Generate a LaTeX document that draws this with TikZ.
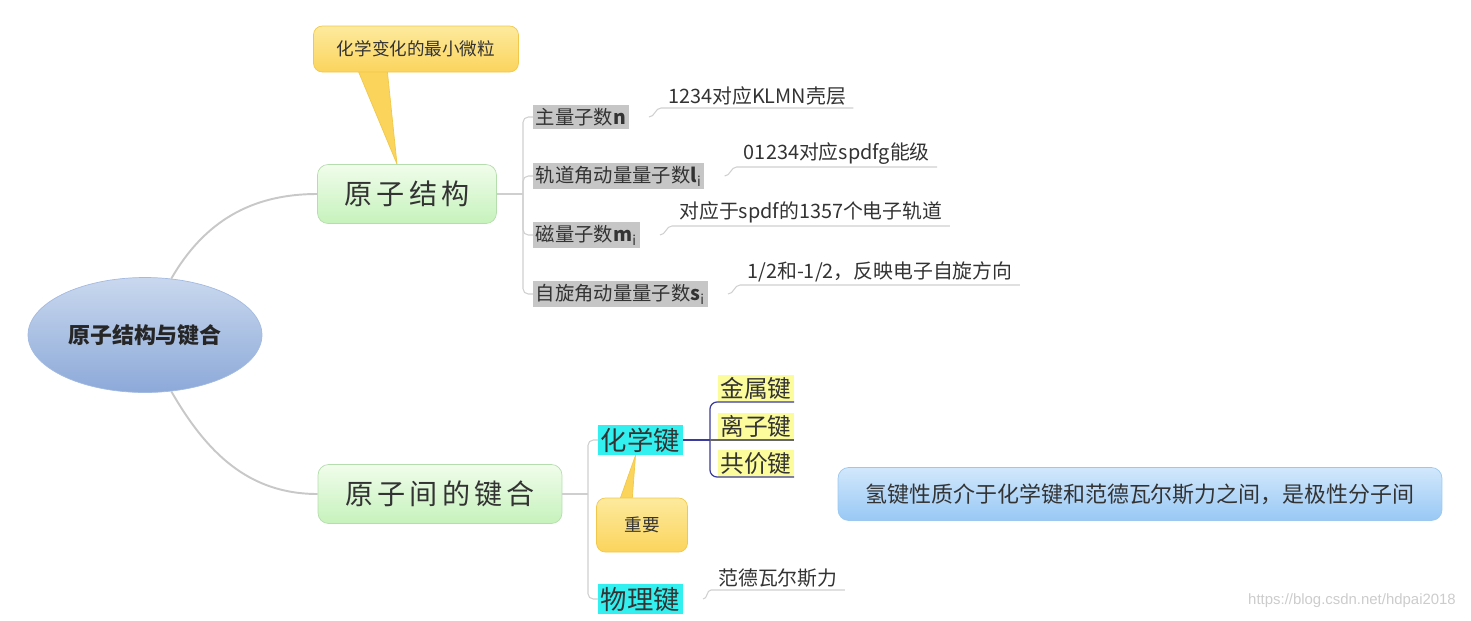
\documentclass[tikz,border=0pt]{standalone}
\usepackage{fontspec}
\setmainfont{Noto Sans CJK SC}
\newfontfamily\cjkwide[LetterSpace=15]{Noto Sans CJK SC}
\newfontfamily\urlfont{Liberation Sans}
\usepackage{xcolor}
\usetikzlibrary{shapes.geometric, positioning, backgrounds}

\definecolor{textdark}{HTML}{333333}
\definecolor{roottop}{HTML}{C9D8EE}
\definecolor{rootbot}{HTML}{8CA9D9}
\definecolor{topictop}{HTML}{F0FDEB}
\definecolor{topicbot}{HTML}{C6F2BC}
\definecolor{topicline}{HTML}{B6DDAE}
\definecolor{calltop}{HTML}{FDEA9E}
\definecolor{callbot}{HTML}{FBD45C}
\definecolor{callline}{HTML}{F2C84A}
\definecolor{hbtop}{HTML}{D2E8FC}
\definecolor{hbbot}{HTML}{98C8F5}
\definecolor{hbline}{HTML}{9CC8EF}
\definecolor{trunkgray}{HTML}{C8C8C8}
\definecolor{twiggray}{HTML}{CFCFCF}
\definecolor{qgray}{HTML}{C6C6C6}
\definecolor{cyanhl}{HTML}{33F0F0}
\definecolor{yellowhl}{HTML}{FCFC9C}
\definecolor{navyline}{HTML}{3B3B9E}

\tikzset{
  rootnode/.style={draw=rootbot!80, ellipse, top color=roottop, bottom color=rootbot,
                   minimum width=4.6cm, minimum height=2.3cm, text=black!85,
                   font=\bfseries\fontsize{12.5}{15}\selectfont},
  topic/.style={draw=topicline, rounded corners=6pt, top color=topictop, bottom color=topicbot,
                minimum height=1.18cm, text=textdark, font=\cjkwide\fontsize{16}{19}\selectfont},
  callout/.style={draw=callline, rounded corners=5pt, top color=calltop, bottom color=callbot,
                  text=textdark, font=\fontsize{10}{12}\selectfont},
  pointer/.style={fill=callbot, draw=callline, line join=round},
  qnum/.style={fill=qgray, inner sep=1.5pt, anchor=west, text=textdark,
               font=\fontsize{11}{13}\selectfont},
  leaf/.style={anchor=south west, inner xsep=4pt, inner ysep=1.5pt, text=textdark,
               font=\fontsize{11.3}{13}\selectfont},
  bondkind/.style={fill=cyanhl, inner sep=1.5pt, anchor=west, text=black!80,
                   font=\fontsize{15}{18}\selectfont},
  bondsub/.style={fill=yellowhl, inner sep=1.2pt, anchor=south west, text=textdark,
                  font=\fontsize{13.5}{16}\selectfont},
  floatbox/.style={draw=hbline, rounded corners=6pt, top color=hbtop, bottom color=hbbot,
                   minimum width=12.08cm, minimum height=1.06cm, text=textdark,
                   font=\fontsize{12.5}{15}\selectfont},
  trunk/.style={draw=trunkgray, line width=1.1pt},
  branch/.style={draw=twiggray, line width=0.6pt, rounded corners=3pt},
  twig/.style={draw=twiggray, line width=0.6pt},
}

\begin{document}
\begin{tikzpicture}[
  x=0.02cm, y=-0.02cm,
  navy/.style={draw=navyline, line width=0.7pt, rounded corners=4pt},
  urlmark/.style={text=gray!40, font=\urlfont\fontsize{8.5}{10}\selectfont},
]
\path[use as bounding box] (0,0) rectangle (1471,620);

% Root and main topics
\node[rootnode] (root) at (145,335) {原子结构与键合};
\node[topic, minimum width=3.58cm] (atom) at (407,194) {原子结构};
\node[topic, minimum width=4.88cm] (bond) at (440,494) {原子间的键合};

\draw[trunk] (root.65) to[out=60,in=180] (atom.west);
\draw[trunk] (root.-65) to[out=-60,in=180] (bond.west);

% Callout on atom structure
\node[callout, minimum width=4.1cm, minimum height=0.92cm] (tip1) at (416,49) {化学变化的最小微粒};
\begin{scope}[on background layer]
  \filldraw[pointer] (357,68) -- ([xshift=-0.2cm]atom.north) -- (387,68) -- cycle;
\end{scope}

% Quantum numbers
\node[qnum] (q1) at (533,117) {主量子数\textbf{n}};
\node[qnum] (q2) at (533,176) {轨道角动量量子数\textbf{l}\textsubscript{i}};
\node[qnum] (q3) at (533,235) {磁量子数\textbf{m}\textsubscript{i}};
\node[qnum] (q4) at (533,294) {自旋角动量量子数\textbf{s}\textsubscript{i}};

\draw[twig] (atom.east) -- (523,194) coordinate (qa);
\foreach \q in {q1,q2,q3,q4}
  \draw[branch] (qa) |- (\q.west);

\node[leaf] (l1) at ([xshift=0.64cm, yshift=0.18cm]q1.east) {1234对应KLMN壳层};
\node[leaf] (l2) at ([xshift=0.64cm, yshift=0.18cm]q2.east) {01234对应spdfg能级};
\node[leaf] (l3) at ([xshift=0.64cm, yshift=0.18cm]q3.east) {对应于spdf的1357个电子轨道};
\node[leaf] (l4) at ([xshift=0.64cm, yshift=0.18cm]q4.east) {1/2和-1/2，反映电子自旋方向};

\foreach \q/\l in {q1/l1,q2/l2,q3/l3,q4/l4}
  \draw[twig] ([xshift=0.4cm]\q.east) to[out=0,in=180] (\l.south west) -- (\l.south east);

% Bonding
\node[bondkind] (chem) at (598,440) {化学键};
\node[bondkind] (phys) at (598,599) {物理键};

\draw[twig] (bond.east) -- (588,494) coordinate (ba);
\draw[branch] (ba) |- (chem.west);
\draw[branch] (ba) |- (phys.west);

\node[callout, minimum width=1.82cm, minimum height=1.08cm] (imp) at (642,525) {重要};
\begin{scope}[on background layer]
  \filldraw[pointer] (619,502) -- ([xshift=-0.1cm]chem.south) -- (632,502) -- cycle;
\end{scope}

\node[bondsub] (b1) at (718,402) {金属键};
\node[bondsub] (b2) at (718,440) {离子键};
\node[bondsub] (b3) at (718,477) {共价键};

\draw[navy] (chem.east) -- (710,440) coordinate (ca);
\draw[navy] (ca) |- (b1.south east);
\draw[navy] (ca) |- (b3.south east);
\draw[draw=black!60, line width=0.7pt] (ca) -- (b2.south east);

\node[leaf] (l5) at ([xshift=0.56cm, yshift=0.18cm]phys.east) {范德瓦尔斯力};
\draw[twig] ([xshift=0.4cm]phys.east) to[out=0,in=180] (l5.south west) -- (l5.south east);

% Floating topic
\node[floatbox] (hb) at (1140,494) {氢键性质介于化学键和范德瓦尔斯力之间，是极性分子间};

\node[urlmark, anchor=east] (url) at (1462,601) {https://blog.csdn.net/hdpai2018};

\end{tikzpicture}
\end{document}
